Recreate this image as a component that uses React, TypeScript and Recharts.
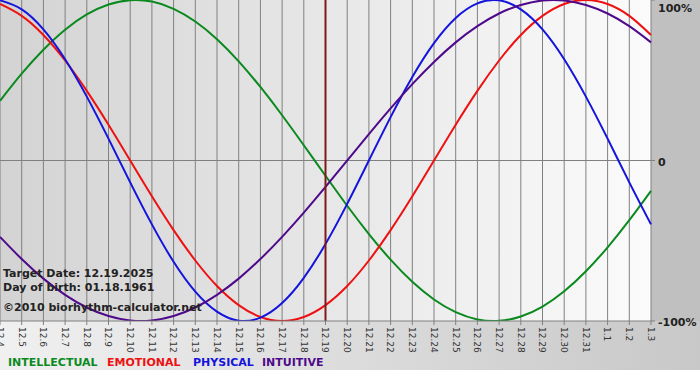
import { LineChart, Line, XAxis, YAxis, CartesianGrid, ReferenceLine } from 'recharts';

const DAYS = [
  '12.4', '12.5', '12.6', '12.7', '12.8', '12.9', '12.10', '12.11', '12.12', '12.13', '12.14',
  '12.15', '12.16', '12.17', '12.18', '12.19', '12.20', '12.21', '12.22', '12.23', '12.24',
  '12.25', '12.26', '12.27', '12.28', '12.29', '12.30', '12.31', '1.1', '1.2', '1.3',
];

// percent values per day
const INTELLECTUAL = [37.2, 54.1, 69.0, 81.5, 91.0, 97.2, 99.9, 99.0, 94.5, 86.6, 75.6, 61.8, 45.8, 28.2, 9.5, -9.5, -28.2, -45.8, -61.8, -75.6, -86.6, -94.5, -99.0, -99.9, -97.2, -91.0, -81.5, -69.0, -54.1, -37.2, -18.9];
const EMOTIONAL = [97.5, 90.1, 78.2, 62.3, 43.4, 22.3, 0, -22.3, -43.4, -62.3, -78.2, -90.1, -97.5, -100, -97.5, -90.1, -78.2, -62.3, -43.4, -22.3, 0, 22.3, 43.4, 62.3, 78.2, 90.1, 97.5, 100, 97.5, 90.1, 78.2];
const PHYSICAL = [99.8, 94.2, 81.7, 63.1, 39.8, 13.6, -13.6, -39.8, -63.1, -81.7, -94.2, -99.8, -97.9, -88.8, -73.1, -52.0, -27.0, 0, 27.0, 52.0, 73.1, 88.8, 97.9, 99.8, 94.2, 81.7, 63.1, 39.8, 13.6, -13.6, -39.8];
const INTUITIVE = [-47.6, -61.4, -73.6, -83.7, -91.6, -96.9, -99.7, -99.7, -96.9, -91.6, -83.7, -73.6, -61.4, -47.6, -32.5, -16.5, 0, 16.5, 32.5, 47.6, 61.4, 73.6, 83.7, 91.6, 96.9, 99.7, 99.7, 96.9, 91.6, 83.7, 73.6];

const Y_TICKS = [-100, 0, 100];
const TARGET_DAY = '12.19';

const SERIES = [
  { key: 'intellectual', name: 'INTELLECTUAL', color: '#0a8a1e' },
  { key: 'emotional', name: 'EMOTIONAL', color: '#ee1111' },
  { key: 'physical', name: 'PHYSICAL', color: '#1414dd' },
  { key: 'intuitive', name: 'INTUITIVE', color: '#4e0a8a' },
];

const data = DAYS.map((day, i) => ({
  day,
  intellectual: INTELLECTUAL[i],
  emotional: EMOTIONAL[i],
  physical: PHYSICAL[i],
  intuitive: INTUITIVE[i],
}));

const FONT = '"DejaVu Sans", Verdana, sans-serif';

const DayTick = (props: any) => {
  const { x, y, payload } = props;
  return (
    <g transform={`translate(${x},${y})`}>
      <text transform="rotate(90)" x={0} y={0} dy="0.35em" textAnchor="start" fontSize={9} fontFamily={FONT} fill="#333">
        {payload.value}
      </text>
    </g>
  );
};

const PercentTick = (props: any) => {
  const { x, y, payload } = props;
  const v = payload.value;
  const label = v === 100 ? '100%' : v === 0 ? '0' : '-100%';
  const yy = v === 100 ? y + 8 : v === 0 ? y + 2 : y + 1.5;
  return (
    <text x={x} y={yy} dy="0.35em" textAnchor="start" fontSize={11} fontWeight="bold" fontFamily={FONT} fill="#222">
      {label}
    </text>
  );
};

const LEGEND_X = [8, 107, 193, 262];

export default function App() {
  return (
    <div style={{ position: 'absolute', left: 0, top: 0, width: 700, height: 380, background: '#fff' }}>
      <div style={{ position: 'absolute', left: 0, top: 0, width: 700, height: 370, background: 'linear-gradient(to right, #f0f0f0, #c8c8c8)' }} />
      <div style={{ position: 'absolute', left: 651, top: 0, width: 49, height: 321, background: '#c0c0c0' }} />
      <div style={{ position: 'absolute', left: 0, top: 0 }}>
        <LineChart width={700} height={370} data={data} margin={{ top: 0, right: 0, bottom: 0, left: 0 }}>
          <defs>
            <linearGradient id="plotBg" x1="0" y1="0" x2="1" y2="0">
              <stop offset="0%" stopColor="#d3d3d3" />
              <stop offset="100%" stopColor="#fbfbfb" />
            </linearGradient>
          </defs>
          <CartesianGrid horizontal={false} stroke="#808080" strokeOpacity={1} fill="url(#plotBg)" fillOpacity={1} />
          <XAxis
            dataKey="day"
            interval={0}
            height={49}
            tickSize={4}
            tickMargin={2}
            stroke="#808080"
            tick={<DayTick />}
          />
          <YAxis
            orientation="right"
            domain={[-100, 100]}
            ticks={Y_TICKS}
            interval={0}
            width={49}
            axisLine={false}
            tickSize={4}
            tickMargin={3}
            stroke="#808080"
            tick={<PercentTick />}
            allowDataOverflow
          />
          <ReferenceLine y={0} stroke="#808080" />
          {SERIES.map(s => (
            <Line
              key={s.key}
              type="natural"
              dataKey={s.key}
              stroke={s.color}
              strokeWidth={2}
              dot={false}
              activeDot={false}
              isAnimationActive={false}
            />
          ))}
          <ReferenceLine x={TARGET_DAY} stroke="#7e1a1a" strokeWidth={2} />
        </LineChart>
      </div>
      <svg width={700} height={380} style={{ position: 'absolute', left: 0, top: 0, pointerEvents: 'none' }}>
        <g fontFamily={FONT} fontWeight="bold" fontSize={11} fill="#222">
          <text x={3} y={277}>Target Date: 12.19.2025</text>
          <text x={3} y={291}>Day of birth: 01.18.1961</text>
          <text x={3} y={311}>©2010 biorhythm-calculator.net</text>
        </g>
        <g fontFamily={FONT} fontWeight="bold" fontSize={11}>
          {SERIES.map((s, i) => (
            <text key={s.key} x={LEGEND_X[i]} y={366} fill={s.color}>{s.name}</text>
          ))}
        </g>
      </svg>
    </div>
  );
}
